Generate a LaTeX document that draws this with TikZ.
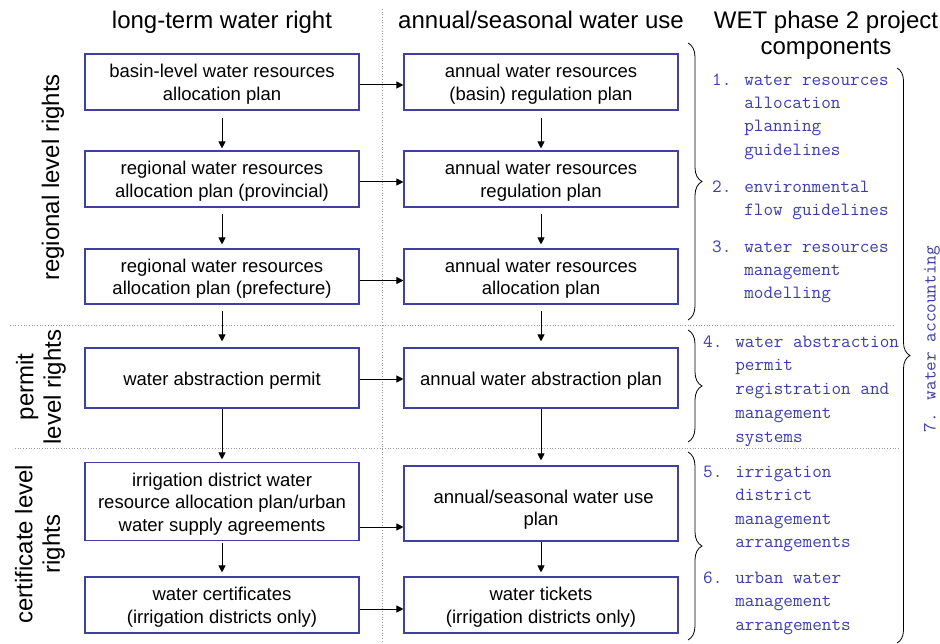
\documentclass[tikz,border=0pt]{standalone}
\usepackage{fontspec}
\setmainfont{Liberation Sans}
\usetikzlibrary{arrows.meta,decorations.pathreplacing}
\definecolor{boxblue}{RGB}{64,64,160}
\definecolor{txtblue}{RGB}{60,60,176}
\newcommand\toprule[1][18pt]{\rule{0pt}{#1}}
\begin{document}
\begin{tikzpicture}[x=1pt,y=-1pt,
  box/.style={draw=boxblue, line width=1.1pt, minimum width=274pt, inner sep=2pt, align=center, font=\fontsize{18.5}{22.5}\selectfont},
  arr/.style={-{Triangle[length=7pt,width=7pt]}, line width=1pt},
  sep/.style={gray!80, dotted, line width=0.7pt},
  hdr/.style={font=\fontsize{24}{27.5}\selectfont, anchor=base, inner sep=0pt},
  side/.style={font=\fontsize{24}{27.5}\selectfont, rotate=90, align=center, inner sep=0pt},
  item/.style={text=txtblue, anchor=north west, align=left, inner sep=0pt, font=\ttfamily\fontsize{18.7}{23.4}\selectfont},
  brc/.style={decorate, decoration={brace, amplitude=14pt}, line width=0.8pt}
]
\useasboundingbox (0,0) rectangle (940,644);

% separators
\coordinate (v1) at (382,9);   \coordinate (v2) at (382,644);
\coordinate (s1a) at (10,325); \coordinate (s1b) at (895,325);
\coordinate (s2a) at (15,448); \coordinate (s2b) at (900,448);
\draw[sep] (v1) -- (v2);
\draw[sep] (s1a) -- (s1b);
\draw[sep] (s2a) -- (s2b);

% headers
\node[hdr] (h1) at (222,29) {long-term water right};
\node[hdr] (h2) at (541,29) {annual/seasonal water use};
\node[hdr] (h3) at (826,29) {WET phase 2 project};
\node[hdr] (h3b) at (826,55) {components};

% side labels
\node[side] (lab1) at (53,177.5) {regional level rights};
\node[side] (lab2) at (41,387) {permit\\level rights};
\node[side] (lab3) at (40,544) {certificate level\\rights};

% left column
\node[box, minimum height=56pt] (L1) at (222,82) {\toprule basin-level water resources\\allocation plan};
\node[box, minimum height=56pt] (L2) at (222,179) {\toprule regional water resources\\allocation plan (provincial)};
\node[box, minimum height=55pt] (L3) at (222,276.5) {\toprule regional water resources\\allocation plan (prefecture)};
\node[box, minimum height=60pt] (L4) at (222,378) {\toprule water abstraction permit};
\node[box, minimum height=78pt] (L5) at (222,501.5) {\toprule irrigation district water\\resource allocation plan/urban\\water supply agreements};
\node[box, minimum height=56pt] (L6) at (222,605) {\toprule water certificates\\(irrigation districts only)};

% right column
\node[box, minimum height=56pt] (R1) at (541,82) {\toprule annual water resources\\(basin) regulation plan};
\node[box, minimum height=56pt] (R2) at (541,179) {\toprule annual water resources\\regulation plan};
\node[box, minimum height=55pt] (R3) at (541,276.5) {\toprule annual water resources\\allocation plan};
\node[box, minimum height=60pt] (R4) at (541,378) {\toprule annual water abstraction plan};
\node[box, minimum height=75pt] (R5) at (541,503.5) {\toprule[25.5pt] annual/seasonal water use\\plan};
\node[box, minimum height=56pt] (R6) at (541,605) {\toprule water tickets\\(irrigation districts only)};

% vertical arrows
\draw[arr, shorten <=7pt, shorten >=2pt] (L1) -- (L2);
\draw[arr, shorten <=6pt, shorten >=4pt] (L2) -- (L3);
\draw[arr, shorten <=6.5pt, shorten >=6pt] (L3) -- (L4);
\draw[arr, shorten <=0pt, shorten >=2.5pt] (L4) -- (L5);
\draw[arr, shorten <=1.5pt, shorten >=4pt] (L5) -- (L6);
\draw[arr, shorten <=7pt, shorten >=2pt] (R1) -- (R2);
\draw[arr, shorten <=6pt, shorten >=4pt] (R2) -- (R3);
\draw[arr, shorten <=6.5pt, shorten >=6pt] (R3) -- (R4);
\draw[arr, shorten <=0pt, shorten >=5pt] (R4) -- (R5);
\draw[arr, shorten <=0pt, shorten >=4pt] (R5) -- (R6);

% horizontal arrows
\draw[arr] ([yshift=-3pt]L1.east) -- ([yshift=-3pt]R1.west);
\draw[arr] ([yshift=-3pt]L2.east) -- ([yshift=-3pt]R2.west);
\draw[arr] ([yshift=-4pt]L3.east) -- ([yshift=-4pt]R3.west);
\draw[arr] ([yshift=-1pt]L4.east) -- ([yshift=-1pt]R4.west);
\draw[arr] ([yshift=-25.5pt]L5.east) -- ([yshift=-23.5pt]R5.west);
\draw[arr] ([yshift=-4pt]L6.east) -- ([yshift=-4pt]R6.west);

% braces
\coordinate (ba1) at (688,43);  \coordinate (ba2) at (688,320);
\coordinate (bb1) at (688,330); \coordinate (bb2) at (688,442);
\coordinate (bc1) at (688,452); \coordinate (bc2) at (688,640);
\coordinate (bd1) at (897,68);  \coordinate (bd2) at (897,643);
\draw[brc] (ba1) -- (ba2);
\draw[brc] (bb1) -- (bb2);
\draw[brc] (bc1) -- (bc2);
\draw[brc, decoration={brace, amplitude=13pt}] (bd1) -- (bd2);

% components
\node[item] (c1) at (712,71) {\rule{0pt}{14pt}1. water resources\\\hphantom{1. }allocation\\\hphantom{1. }planning\\\hphantom{1. }guidelines};
\node[item] (c2) at (712,178) {\rule{0pt}{14pt}2. environmental\\\hphantom{2. }flow guidelines};
\node[item] (c3) at (712,238) {\rule{0pt}{14pt}3. water resources\\\hphantom{3. }management\\\hphantom{3. }modelling};
\node[item, font=\ttfamily\fontsize{18.7}{23.75}\selectfont] (c4) at (703,333) {\rule{0pt}{14pt}4. water abstraction\\\hphantom{4. }permit\\\hphantom{4. }registration and\\\hphantom{4. }management\\\hphantom{4. }systems};
\node[item] (c5) at (703,463) {\rule{0pt}{14pt}5. irrigation\\\hphantom{5. }district\\\hphantom{5. }management\\\hphantom{5. }arrangements};
\node[item] (c6) at (703,569) {\rule{0pt}{14pt}6. urban water\\\hphantom{6. }management\\\hphantom{6. }arrangements};
\node[text=txtblue, rotate=90, inner sep=0pt, font=\ttfamily\fontsize{18.7}{20}\selectfont] (c7) at (932,339) {7. water accounting};
\end{tikzpicture}
\end{document}
